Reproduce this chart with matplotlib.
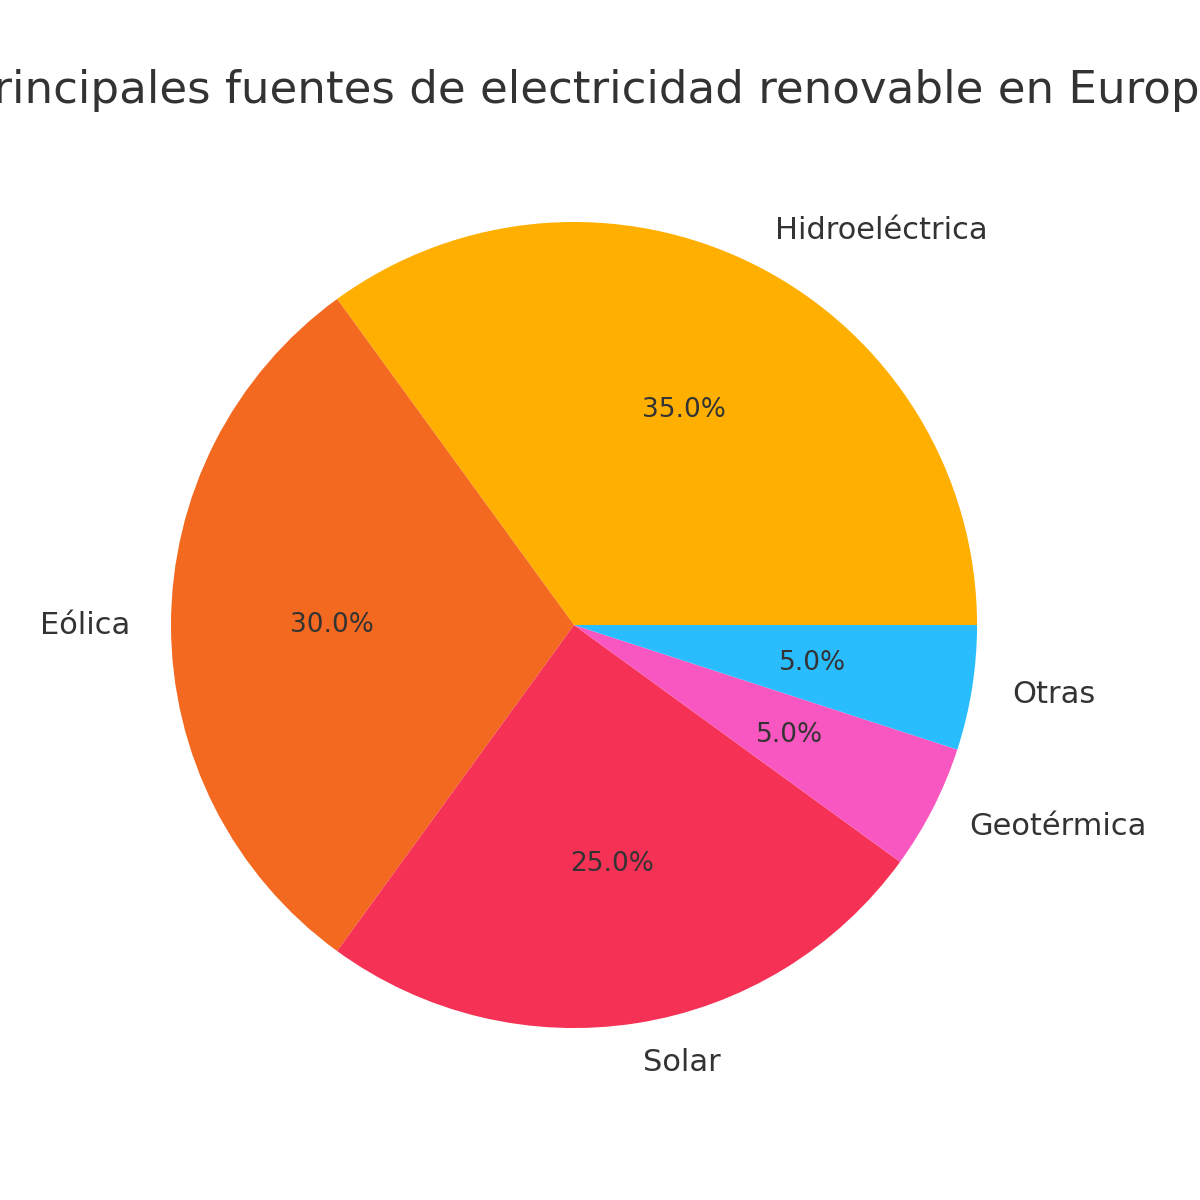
import matplotlib.pyplot as plt

fuentes = ["Hidroeléctrica", "Eólica", "Solar", "Geotérmica", "Otras"]
porcentajes = [35, 30, 25, 5, 5]
colores = ["#FFAF00", "#F46920", "#F53255", "#F857C1", "#29BDFD"]

fig = plt.figure(figsize=(12, 12), dpi=100)
ax = fig.add_axes([0.1425, 0.1433, 0.6717, 0.6717])
wedges, textos, autotextos = ax.pie(
    porcentajes, labels=fuentes, colors=colores, autopct="%1.1f%%",
    startangle=0, labeldistance=1.1, pctdistance=0.6,
    textprops={"fontsize": 22, "color": "#333333"},
)
for t in autotextos:
    t.set_fontsize(19)
ax.set_aspect("equal")
ax.set_xlim(-1, 1)
ax.set_ylim(-1, 1)
fig.text(0.498, 0.925, "Principales fuentes de electricidad renovable en Europa",
         ha="center", va="center", fontsize=32.5, color="#333333")
fig.savefig("out.png", dpi=100)
